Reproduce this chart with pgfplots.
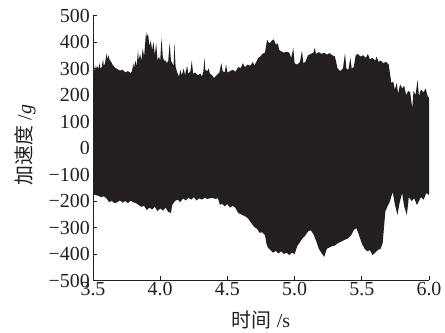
\documentclass[border=0pt]{standalone}
\usepackage{fontspec}
\setmainfont{Liberation Serif}
\newfontfamily\cjk{Noto Sans CJK SC}
\usepackage{pgfplots}
\pgfplotsset{compat=1.18}
\usepgfplotslibrary{fillbetween}
\definecolor{sig}{RGB}{35,31,32}
\begin{document}
\begin{tikzpicture}
\begin{axis}[name=ax, scale only axis, width=336bp, height=265bp,
  xmin=3.5, xmax=6.0, ymin=-500, ymax=500,
  axis lines=left, x axis line style={-}, y axis line style={-},
  axis line style={line width=1bp, color=sig},
  every tick/.style={line width=0.8bp, color=sig},
  tick align=inside, major tick length=4bp,
  xtick={3.5,4.0,4.5,5.0,5.5,6.0},
  xticklabels={3.5,4.0,4.5,5.0,5.5,6.0},
  ytick={-500,-400,-300,-200,-100,0,100,200,300,400,500},
  yticklabels={−500,−400,−300,−200,−100,0,100,200,300,400,500},
  tick label style={font=\fontsize{20}{22}\selectfont, text=sig},
  xticklabel style={inner sep=2bp},
  yticklabel style={inner sep=3bp},
  label style={font=\fontsize{20}{22}\selectfont, text=sig},
  xlabel={{\cjk 时间} /s},
  ylabel={{\cjk 加速度} /\textit{g}},
  xlabel style={at={(rel axis cs:0.5,0)}, anchor=center, yshift=-39.5bp},
  ylabel style={at={(rel axis cs:0,0.5)}, anchor=center, rotate=0, yshift=68bp, xshift=3bp},
  clip=true]
\addplot[draw=none, name path=U] coordinates {
(3.500,265) (3.503,300) (3.510,290) (3.515,315) (3.520,295) (3.530,310) (3.540,300) (3.550,320)
(3.555,300) (3.565,305) (3.575,335) (3.580,310) (3.590,320) (3.600,358) (3.605,335) (3.615,350)
(3.625,330) (3.635,325) (3.645,315) (3.660,305) (3.680,298) (3.700,292) (3.720,295) (3.740,285)
(3.760,290) (3.780,283) (3.790,290) (3.800,320) (3.805,300) (3.815,330) (3.825,310) (3.835,370)
(3.840,330) (3.850,355) (3.860,330) (3.870,375) (3.880,345) (3.895,438) (3.900,420) (3.910,430)
(3.920,385) (3.930,405) (3.940,370) (3.950,400) (3.960,350) (3.970,395) (3.980,330) (3.990,345)
(4.000,330) (4.010,415) (4.020,340) (4.030,330) (4.040,330) (4.050,320) (4.060,330) (4.070,396)
(4.080,330) (4.090,320) (4.100,310) (4.105,396) (4.115,305) (4.130,280) (4.140,270) (4.150,295)
(4.160,275) (4.175,300) (4.185,275) (4.200,310) (4.210,280) (4.225,290) (4.235,330) (4.245,280)
(4.260,285) (4.280,275) (4.300,280) (4.310,270) (4.320,285) (4.330,340) (4.335,295) (4.350,290)
(4.360,300) (4.370,280) (4.385,275) (4.400,264) (4.420,275) (4.440,285) (4.455,320) (4.465,290)
(4.480,285) (4.490,315) (4.500,285) (4.520,290) (4.540,295) (4.560,288) (4.580,305) (4.600,302)
(4.615,320) (4.630,305) (4.650,315) (4.670,310) (4.690,325) (4.700,310) (4.715,325) (4.730,340)
(4.745,345) (4.760,355) (4.780,360) (4.795,408) (4.805,400) (4.815,395) (4.830,405) (4.845,410)
(4.860,390) (4.875,395) (4.885,370) (4.900,365) (4.920,360) (4.940,363) (4.960,360) (4.975,340)
(4.990,377) (5.000,320) (5.020,315) (5.040,325) (5.055,367) (5.065,320) (5.080,325) (5.100,350)
(5.120,355) (5.140,360) (5.150,377) (5.160,355) (5.180,362) (5.200,355) (5.220,360) (5.240,352)
(5.260,358) (5.280,350) (5.300,345) (5.320,300) (5.340,290) (5.360,300) (5.375,358) (5.385,300)
(5.400,295) (5.415,340) (5.425,300) (5.440,305) (5.455,350) (5.470,355) (5.490,345) (5.510,350)
(5.530,340) (5.545,355) (5.560,335) (5.580,340) (5.600,330) (5.610,345) (5.625,325) (5.640,330)
(5.660,320) (5.680,325) (5.700,315) (5.710,280) (5.720,245) (5.735,250) (5.745,220) (5.760,245)
(5.770,205) (5.785,240) (5.800,225) (5.815,235) (5.830,200) (5.845,215) (5.860,210) (5.875,150)
(5.885,215) (5.900,200) (5.915,257) (5.925,195) (5.940,220) (5.960,210) (5.975,225) (5.990,195)
(6.000,190)
};
\addplot[draw=none, name path=L] coordinates {
(3.500,-174) (3.520,-178) (3.540,-180) (3.560,-186) (3.580,-182) (3.600,-190) (3.620,-204) (3.640,-200)
(3.660,-208) (3.680,-205) (3.700,-198) (3.720,-206) (3.740,-200) (3.760,-208) (3.780,-199) (3.800,-205)
(3.820,-208) (3.840,-215) (3.860,-222) (3.880,-218) (3.900,-234) (3.920,-225) (3.940,-232) (3.960,-222)
(3.980,-238) (4.000,-228) (4.020,-236) (4.040,-225) (4.060,-241) (4.080,-245) (4.090,-215) (4.110,-200)
(4.130,-195) (4.150,-204) (4.170,-190) (4.190,-198) (4.210,-188) (4.230,-195) (4.250,-185) (4.270,-198)
(4.290,-190) (4.310,-195) (4.330,-188) (4.350,-192) (4.370,-190) (4.390,-188) (4.410,-192) (4.430,-190)
(4.445,-215) (4.460,-210) (4.480,-220) (4.500,-212) (4.520,-225) (4.540,-218) (4.560,-226) (4.580,-245)
(4.600,-250) (4.620,-255) (4.640,-260) (4.660,-270) (4.680,-285) (4.700,-298) (4.720,-305) (4.740,-320)
(4.760,-318) (4.780,-330) (4.790,-360) (4.800,-375) (4.820,-385) (4.840,-395) (4.860,-388) (4.880,-398)
(4.900,-390) (4.920,-400) (4.940,-395) (4.960,-404) (4.980,-395) (5.000,-400) (5.020,-370) (5.040,-355)
(5.060,-340) (5.080,-330) (5.100,-315) (5.120,-310) (5.140,-325) (5.160,-350) (5.180,-380) (5.200,-396)
(5.220,-411) (5.240,-380) (5.260,-375) (5.280,-370) (5.300,-368) (5.320,-360) (5.340,-355) (5.360,-350)
(5.380,-345) (5.400,-340) (5.420,-330) (5.440,-310) (5.460,-302) (5.480,-330) (5.500,-360) (5.520,-380)
(5.540,-390) (5.560,-385) (5.580,-404) (5.600,-395) (5.620,-385) (5.640,-380) (5.655,-360) (5.665,-300)
(5.675,-240) (5.690,-222) (5.710,-200) (5.730,-166) (5.745,-210) (5.765,-253) (5.780,-210) (5.800,-170)
(5.815,-220) (5.835,-253) (5.850,-185) (5.870,-200) (5.890,-190) (5.910,-215) (5.925,-200) (5.940,-185)
(5.960,-195) (5.980,-170) (6.000,-177)
};
\addplot[fill=sig, draw=none] fill between[of=U and L];
\end{axis}
\path ([xshift=-93bp,yshift=-50.5bp]ax.south west) rectangle ([xshift=16bp,yshift=15.5bp]ax.north east);
\end{tikzpicture}
\end{document}
